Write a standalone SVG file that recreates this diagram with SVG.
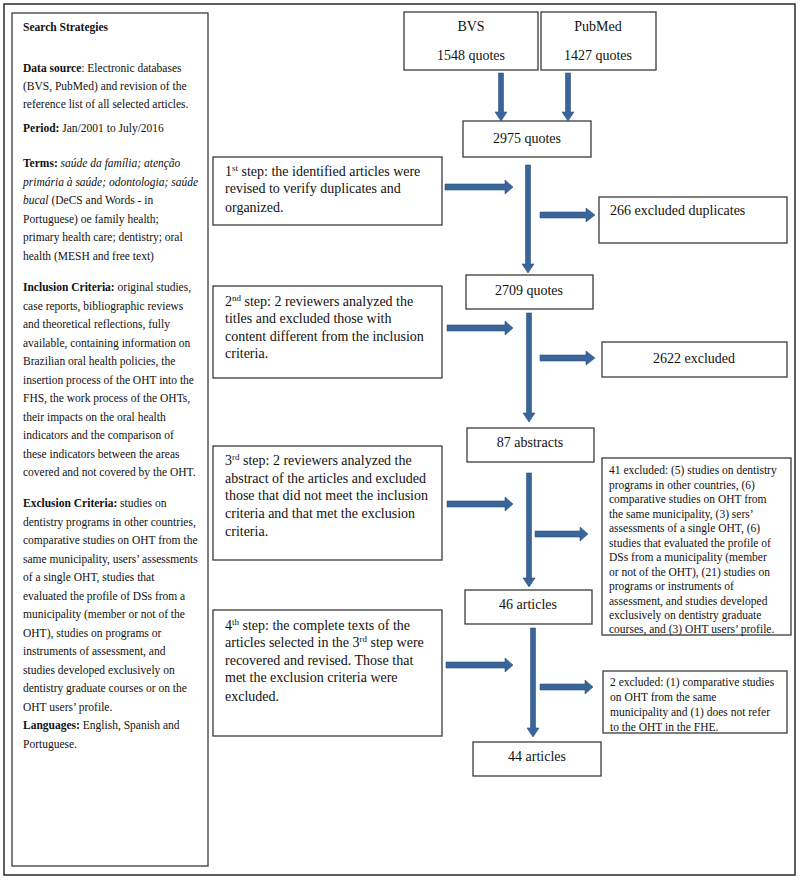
<svg xmlns="http://www.w3.org/2000/svg" width="800" height="880" viewBox="0 0 800 880">
<defs>
<style>
.box{fill:#fff;stroke:#3a3a3a;stroke-width:1.3}
.frame{fill:none;stroke:#2a2a2a;stroke-width:1.5}
.t{font-family:"Liberation Serif","Times New Roman",serif;font-size:14px;fill:#111}
.s{font-family:"Liberation Serif","Times New Roman",serif;font-size:11.5px;fill:#111}
.m{text-anchor:middle}
.b{font-weight:bold}
.i{font-style:italic}
.arr{fill:#3a6598;stroke:#2f5283;stroke-width:0.6}
.sup{font-size:9px}
</style>
</defs>
<rect class="frame" x="4" y="4" width="791" height="871"/>
<g id="search-strategies">
<rect class="box" x="12" y="13" width="196" height="853"/>
<text class="s b" x="23" y="31">Search Strategies</text>
<text class="s" x="23" y="72"><tspan class="b">Data source</tspan>: Electronic databases</text>
<text class="s" x="23" y="90">(BVS, PubMed) and revision of the</text>
<text class="s" x="23" y="108">reference list of all selected articles.</text>
<text class="s" x="23" y="132"><tspan class="b">Period:</tspan> Jan/2001 to July/2016</text>
<text class="s" x="23" y="167"><tspan class="b">Terms:</tspan> <tspan class="i">saúde da família; atenção</tspan></text>
<text class="s i" x="23" y="186">primária à saúde; odontologia; saúde</text>
<text class="s" x="23" y="204"><tspan class="i">bucal</tspan> (DeCS and Words - in</text>
<text class="s" x="23" y="223">Portuguese) oe family health;</text>
<text class="s" x="23" y="241">primary health care; dentistry; oral</text>
<text class="s" x="23" y="260">health (MESH and free text)</text>
<text class="s" x="23" y="291"><tspan class="b">Inclusion Criteria:</tspan> original studies,</text>
<text class="s" x="23" y="310">case reports, bibliographic reviews</text>
<text class="s" x="23" y="328">and theoretical reflections, fully</text>
<text class="s" x="23" y="347">available, containing information on</text>
<text class="s" x="23" y="365">Brazilian oral health policies, the</text>
<text class="s" x="23" y="384">insertion process of the OHT into the</text>
<text class="s" x="23" y="402">FHS, the work process of the OHTs,</text>
<text class="s" x="23" y="421">their impacts on the oral health</text>
<text class="s" x="23" y="439">indicators and the comparison of</text>
<text class="s" x="23" y="458">these indicators between the areas</text>
<text class="s" x="23" y="476">covered and not covered by the OHT.</text>
<text class="s" x="23" y="507"><tspan class="b">Exclusion Criteria:</tspan> studies on</text>
<text class="s" x="23" y="526">dentistry programs in other countries,</text>
<text class="s" x="23" y="544">comparative studies on OHT from the</text>
<text class="s" x="23" y="563">same municipality, users’ assessments</text>
<text class="s" x="23" y="581">of a single OHT, studies that</text>
<text class="s" x="23" y="600">evaluated the profile of DSs from a</text>
<text class="s" x="23" y="618">municipality (member or not of the</text>
<text class="s" x="23" y="637">OHT), studies on programs or</text>
<text class="s" x="23" y="655">instruments of assessment, and</text>
<text class="s" x="23" y="674">studies developed exclusively on</text>
<text class="s" x="23" y="692">dentistry graduate courses or on the</text>
<text class="s" x="23" y="711">OHT users’ profile.</text>
<text class="s" x="23" y="729"><tspan class="b">Languages:</tspan> English, Spanish and</text>
<text class="s" x="23" y="748">Portuguese.</text>
</g>
<g id="bvs">
<rect class="box" x="404" y="12" width="134" height="58"/>
<text class="t m" x="471" y="31">BVS</text>
<text class="t m" x="471" y="60">1548 quotes</text>
</g>
<g id="pubmed">
<rect class="box" x="541" y="12" width="115" height="58"/>
<text class="t m" x="598" y="31">PubMed</text>
<text class="t m" x="598" y="60">1427 quotes</text>
</g>
<g id="n2975">
<rect class="box" x="463" y="121" width="128" height="36"/>
<text class="t m" x="527" y="143">2975 quotes</text>
</g>
<g id="step1">
<rect class="box" x="213" y="157" width="229" height="68"/>
<text class="t" x="225" y="176">1<tspan class="sup" dy="-5">st</tspan><tspan dy="5"> step: the identified articles were</tspan></text>
<text class="t" x="225" y="193">revised to verify duplicates and</text>
<text class="t" x="225" y="212">organized.</text>
</g>
<g id="ex266">
<rect class="box" x="599" y="197" width="188" height="46"/>
<text class="t" x="610" y="215">266 excluded duplicates</text>
</g>
<g id="n2709">
<rect class="box" x="466" y="275" width="127" height="34"/>
<text class="t m" x="529" y="295">2709 quotes</text>
</g>
<g id="step2">
<rect class="box" x="213" y="286" width="229" height="92"/>
<text class="t" x="225" y="306">2<tspan class="sup" dy="-5">nd</tspan><tspan dy="5"> step: 2 reviewers analyzed the</tspan></text>
<text class="t" x="225" y="323">titles and excluded those with</text>
<text class="t" x="225" y="341">content different from the inclusion</text>
<text class="t" x="225" y="358">criteria.</text>
</g>
<g id="ex2622">
<rect class="box" x="602" y="342" width="185" height="35"/>
<text class="t m" x="694" y="363">2622 excluded</text>
</g>
<g id="n87">
<rect class="box" x="467" y="428" width="127" height="34"/>
<text class="t m" x="530" y="447">87 abstracts</text>
</g>
<g id="step3">
<rect class="box" x="213" y="446" width="229" height="114"/>
<text class="t" x="225" y="465">3<tspan class="sup" dy="-5">rd</tspan><tspan dy="5"> step: 2 reviewers analyzed the</tspan></text>
<text class="t" x="225" y="483">abstract of the articles and excluded</text>
<text class="t" x="225" y="500">those that did not meet the inclusion</text>
<text class="t" x="225" y="518">criteria and that met the exclusion</text>
<text class="t" x="225" y="536">criteria.</text>
</g>
<g id="ex41">
<rect class="box" x="602" y="458" width="189" height="177"/>
<text class="s" x="609" y="474">41 excluded: (5) studies on dentistry</text>
<text class="s" x="609" y="488.5">programs in other countries, (6)</text>
<text class="s" x="609" y="503">comparative studies on OHT from</text>
<text class="s" x="609" y="517.5">the same municipality, (3) sers’</text>
<text class="s" x="609" y="532">assessments of a single OHT, (6)</text>
<text class="s" x="609" y="546.5">studies that evaluated the profile of</text>
<text class="s" x="609" y="561">DSs from a municipality (member</text>
<text class="s" x="609" y="575.5">or not of the OHT), (21) studies on</text>
<text class="s" x="609" y="590">programs or instruments of</text>
<text class="s" x="609" y="604.5">assessment, and studies developed</text>
<text class="s" x="609" y="619">exclusively on dentistry graduate</text>
<text class="s" x="609" y="633">courses,  and (3) OHT users’ profile.</text>
</g>
<g id="n46">
<rect class="box" x="465" y="590" width="127" height="34"/>
<text class="t m" x="528" y="609">46 articles</text>
</g>
<g id="step4">
<rect class="box" x="213" y="610" width="229" height="126"/>
<text class="t" x="225" y="630">4<tspan class="sup" dy="-5">th</tspan><tspan dy="5"> step: the complete texts of the</tspan></text>
<text class="t" x="225" y="647">articles selected in the 3<tspan class="sup" dy="-5">rd</tspan><tspan dy="5"> step were</tspan></text>
<text class="t" x="225" y="665">recovered and revised. Those that</text>
<text class="t" x="225" y="682">met the exclusion criteria were</text>
<text class="t" x="225" y="701">excluded.</text>
</g>
<g id="ex2">
<rect class="box" x="603" y="671" width="184" height="62"/>
<text class="s" x="610" y="686">2 excluded: (1) comparative studies</text>
<text class="s" x="610" y="701">on OHT from the same</text>
<text class="s" x="610" y="716">municipality and (1) does not refer</text>
<text class="s" x="610" y="731">to the OHT in the FHE.</text>
</g>
<g id="n44">
<rect class="box" x="473" y="742" width="128" height="34"/>
<text class="t m" x="537" y="761">44 articles</text>
</g>
<g id="connectors">
<polygon class="arr" points="498.5,73 503.5,73 503.5,112 507,112 501,121 495,112 498.5,112"/>
<polygon class="arr" points="565.5,73 570.5,73 570.5,112 574,112 568,121 562,112 565.5,112"/>
<polygon class="arr" points="525.5,165 530.5,165 530.5,264 534,264 528,273 522,264 525.5,264"/>
<polygon class="arr" points="526.5,313 531.5,313 531.5,413 535,413 529,422 523,413 526.5,413"/>
<polygon class="arr" points="526.5,473 531.5,473 531.5,578 535,578 529,587 523,578 526.5,578"/>
<polygon class="arr" points="530.5,628 535.5,628 535.5,728 539,728 533,737 527,728 530.5,728"/>
<polygon class="arr" points="445,184 505,184 505,180 513,187 505,194 505,190 445,190"/>
<polygon class="arr" points="540,212 586,212 586,208 595,215 586,222 586,218 540,218"/>
<polygon class="arr" points="447,325 505,325 505,321 513,328 505,335 505,331 447,331"/>
<polygon class="arr" points="540,355 586,355 586,351 595,358 586,365 586,361 540,361"/>
<polygon class="arr" points="447,501 505,501 505,497 513,504 505,511 505,507 447,507"/>
<polygon class="arr" points="535,531 580,531 580,527 588,534 580,541 580,537 535,537"/>
<polygon class="arr" points="446,662 505,662 505,658 513,665 505,672 505,668 446,668"/>
<polygon class="arr" points="540,684 585,684 585,680 593,687 585,694 585,690 540,690"/>
</g>
</svg>
